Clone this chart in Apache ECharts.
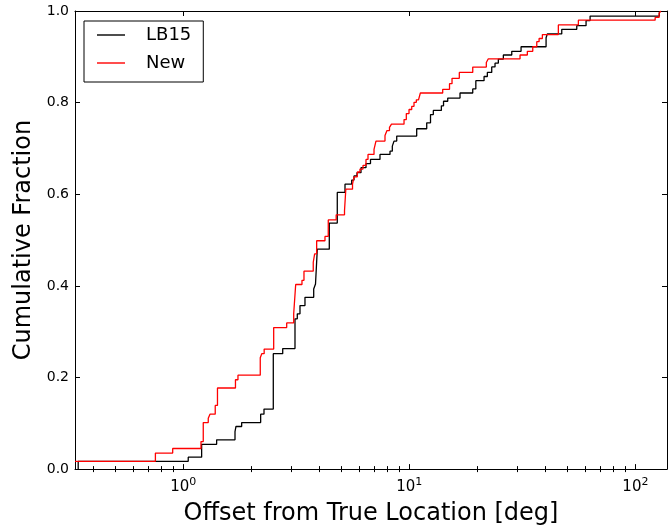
<!DOCTYPE html>
<html>
<head>
<meta charset="utf-8">
<script src="https://cdn.jsdelivr.net/npm/echarts@6/dist/echarts.min.js"></script>
<style>
  html, body { margin: 0; padding: 0; background: #fff; }
  #chart { width: 668px; height: 531px; }
</style>
</head>
<body>
<div id="chart"></div>
<script>
// Empirical cumulative distributions of localisation offsets (deg).
// Each entry: offset where the CDF steps up, and the cumulative fraction after the step.
const lb15Offsets = [0.343, 1.052, 1.206, 1.405, 1.694, 1.711, 1.813, 2.200, 2.276, 2.502,
  2.754, 3.121, 3.195, 3.284, 3.455, 3.776, 3.846, 3.917, 4.426, 4.801, 5.194, 5.561, 5.693,
  5.869, 6.113, 6.432, 6.734, 7.418, 8.215, 8.41, 8.557, 8.796, 10.78, 11.94, 12.41, 12.77,
  13.86, 14.17, 14.79, 16.76, 19.08, 19.69, 21.41, 22.14, 23.15, 23.94, 24.76, 26.06, 28.39,
  31.21, 40.27, 40.8, 47.24, 55.05, 60.51, 63.05, 127.7];
const lb15Fractions = [0.017, 0.026, 0.054, 0.064, 0.082, 0.093, 0.1015, 0.12, 0.131, 0.252,
  0.263, 0.328, 0.339, 0.357, 0.375, 0.393, 0.404, 0.48, 0.537, 0.604, 0.622, 0.631, 0.640,
  0.647, 0.658, 0.667, 0.676, 0.687, 0.694, 0.705, 0.716, 0.727, 0.743, 0.756, 0.774, 0.783,
  0.793, 0.803, 0.81, 0.821, 0.83, 0.848, 0.857, 0.866, 0.878, 0.886, 0.895, 0.904, 0.912,
  0.922, 0.9417, 0.95, 0.96, 0.968, 0.979, 0.989, 1.0];

const newOffsets = [0.332, 0.753, 0.898, 1.198, 1.226, 1.29, 1.313, 1.385, 1.417, 1.702,
  1.746, 2.191, 2.225, 2.28, 2.512, 2.868, 3.08, 3.143, 3.351, 3.42, 3.759, 3.813, 3.892,
  4.236, 4.38, 4.748, 5.168, 5.237, 5.607, 5.693, 5.887, 6.05, 6.239, 6.432, 6.565, 6.98,
  7.12, 7.806, 7.965, 8.172, 8.34, 9.476, 9.699, 9.97, 10.25, 10.49, 10.74, 10.98, 11.19,
  14.05, 15.06, 15.45, 16.64, 19.08, 21.91, 22.36, 30.89, 33.27, 35.16, 36.63, 37.5, 38.78,
  45.63, 55.96, 122.3, 127.3, 129.5];
const newFractions = [0.017, 0.035, 0.045, 0.06, 0.1015, 0.111, 0.12, 0.139, 0.177, 0.195,
  0.205, 0.243, 0.252, 0.262, 0.309, 0.319, 0.339, 0.403, 0.412, 0.432, 0.4515, 0.47, 0.4985,
  0.508, 0.544, 0.555, 0.564, 0.611, 0.622, 0.638, 0.6485, 0.655, 0.663, 0.676, 0.687, 0.698,
  0.716, 0.728, 0.739, 0.746, 0.753, 0.763, 0.776, 0.785, 0.792, 0.8007, 0.806, 0.81, 0.821,
  0.829, 0.8413, 0.853, 0.866, 0.8776, 0.8876, 0.8957, 0.904, 0.912, 0.922, 0.933, 0.94,
  0.9485, 0.9696, 0.98, 0.986, 0.995, 1.0];

// Axis ranges and ticks
const xRange = [0.332, 138];
const xMajorTicks = [1, 10, 100];
const xMinorTicks = [0.4, 0.5, 0.6, 0.7, 0.8, 0.9, 2, 3, 4, 5, 6, 7, 8, 9,
  20, 30, 40, 50, 60, 70, 80, 90];
const yTicks = [0, 0.2, 0.4, 0.6, 0.8, 1.0];

const FONT = 'DejaVu Sans';

// Step curve; the rise from zero is drawn only when the first step lies inside the axis range
function cdfPoints(xs, ys) {
  const pts = xs[0] > xRange[0] ? [[xs[0], 0]] : [];
  for (let i = 0; i < xs.length; i++) pts.push([xs[i], ys[i]]);
  return pts;
}

function logAxis(opts) {
  return Object.assign({
    type: 'log',
    logBase: 10,
    min: xRange[0],
    max: xRange[1],
    axisLine: { show: false },
    splitLine: { show: false },
    axisLabel: { show: false },
    axisTick: { show: false }
  }, opts);
}

const tickLine = { color: '#000', width: 1 };

const option = {
  animation: false,
  backgroundColor: '#fff',
  grid: { left: 75, right: 1, top: 11, bottom: 60, containLabel: false },
  legend: {
    data: [
      { name: 'LB15', icon: 'rect' },
      { name: 'New', icon: 'rect' }
    ],
    orient: 'vertical',
    left: 84,
    top: 21,
    width: 118,
    itemWidth: 28,
    itemHeight: 1.4,
    itemGap: 8,
    padding: [4, 12, 9, 13],
    borderColor: '#000',
    borderWidth: 1,
    borderRadius: 0,
    backgroundColor: '#fff',
    textStyle: {
      fontFamily: FONT, fontSize: 18, color: '#000',
      lineHeight: 20, padding: [0, 0, 0, 16]
    }
  },
  xAxis: [
    logAxis({
      position: 'bottom',
      axisLine: { show: true, onZero: false, lineStyle: { color: '#000', width: 1 } },
      axisTick: { show: true, inside: true, length: 5, lineStyle: tickLine, customValues: xMajorTicks },
      axisLabel: {
        show: true,
        customValues: xMajorTicks,
        margin: 9,
        fontFamily: FONT,
        color: '#000',
        formatter: function (v) {
          const e = Math.round(Math.log10(v));
          return '{b|10}{s|' + e + '}';
        },
        rich: {
          b: { fontFamily: FONT, fontSize: 15, color: '#000', lineHeight: 18 },
          s: { fontFamily: FONT, fontSize: 11, color: '#000', lineHeight: 18, padding: [0, 0, 9, 0] }
        }
      },
      name: 'Offset from True Location [deg]',
      nameLocation: 'middle',
      nameGap: 24,
      nameTextStyle: { fontFamily: FONT, fontSize: 24, color: '#000' }
    }),
    logAxis({
      position: 'bottom',
      axisTick: { show: true, inside: true, length: 3, lineStyle: tickLine, customValues: xMinorTicks }
    }),
    logAxis({
      position: 'top',
      axisLine: { show: true, onZero: false, lineStyle: { color: '#000', width: 1 } },
      axisTick: { show: true, inside: true, length: 5, lineStyle: tickLine, customValues: xMajorTicks }
    }),
    logAxis({
      position: 'top',
      axisTick: { show: true, inside: true, length: 3, lineStyle: tickLine, customValues: xMinorTicks }
    })
  ],
  yAxis: [
    {
      type: 'value',
      position: 'left',
      min: 0,
      max: 1,
      interval: 0.2,
      splitLine: { show: false },
      axisLine: { show: true, onZero: false, lineStyle: { color: '#000', width: 1 } },
      axisTick: { show: true, inside: true, length: 5, lineStyle: tickLine },
      axisLabel: {
        margin: 6,
        fontFamily: FONT,
        fontSize: 14,
        color: '#000',
        customValues: yTicks,
        formatter: function (v) { return v.toFixed(1); }
      },
      name: 'Cumulative Fraction',
      nameLocation: 'middle',
      nameGap: 37,
      nameTextStyle: { fontFamily: FONT, fontSize: 24, color: '#000' }
    },
    {
      type: 'value',
      position: 'right',
      min: 0,
      max: 1,
      interval: 0.2,
      splitLine: { show: false },
      axisLine: { show: true, onZero: false, lineStyle: { color: '#000', width: 1 } },
      axisTick: { show: true, inside: true, length: 5, lineStyle: tickLine },
      axisLabel: { show: false }
    }
  ],
  series: [
    {
      name: 'LB15',
      type: 'line',
      step: 'end',
      xAxisIndex: 0,
      yAxisIndex: 0,
      showSymbol: false,
      symbol: 'none',
      clip: true,
      color: '#000000',
      lineStyle: { color: '#000000', width: 1.3 },
      data: cdfPoints(lb15Offsets, lb15Fractions)
    },
    {
      name: 'New',
      type: 'line',
      step: 'end',
      xAxisIndex: 0,
      yAxisIndex: 0,
      showSymbol: false,
      symbol: 'none',
      clip: true,
      color: '#ff0000',
      lineStyle: { color: '#ff0000', width: 1.3 },
      data: cdfPoints(newOffsets, newFractions)
    }
  ]
};

const chart = echarts.init(document.getElementById('chart'), null, { renderer: 'canvas' });
chart.setOption(option);
</script>
</body>
</html>
